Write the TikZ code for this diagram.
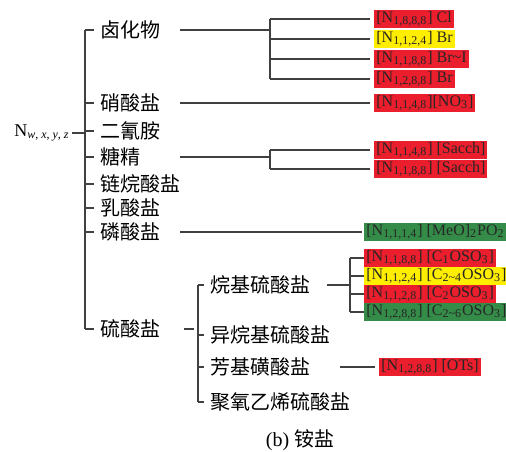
\documentclass[tikz,border=0pt]{standalone}
\usepackage{fontspec}
\setmainfont{Liberation Serif}
\newfontfamily\cjk{Noto Sans CJK SC}
\usetikzlibrary{positioning}
\definecolor{saltred}{RGB}{234,30,44}
\definecolor{saltyellow}{RGB}{255,238,0}
\definecolor{saltgreen}{RGB}{52,140,72}
\tikzset{
  branch/.style={draw=black!75, line width=0.7pt},
  cls/.style={anchor=west, inner sep=1pt,
    font=\cjk\fontsize{10}{12}\selectfont},
  ion/.style={anchor=west, inner xsep=1pt, inner ysep=0pt,
    minimum height=9pt, text=black!85,
    font=\fontsize{8}{10}\selectfont},
  redion/.style={ion, fill=saltred},
  yellowion/.style={ion, fill=saltyellow},
  greenion/.style={ion, fill=saltgreen},
}

\begin{document}
\begin{tikzpicture}[x=0.5pt, y=-0.5pt]
    \useasboundingbox (0,0) rectangle (506,451);

    %cation and first level
    \node[anchor=east, inner sep=1pt, font=\fontsize{9}{11}\selectfont]
        (cation) at (72,133) {N\textsubscript{\textit{w}, \textit{x}, \textit{y}, \textit{z}}};
    \node[cls] (halide) at (98,30) {卤化物};
    \node[cls] (nitrate) at (98,103) {硝酸盐};
    \node[cls] (dicyan) at (98,131) {二氰胺};
    \node[cls] (saccharin) at (98,157) {糖精};
    \node[cls] (alkanoate) at (98,184) {链烷酸盐};
    \node[cls] (lactate) at (98,208) {乳酸盐};
    \node[cls] (phosphate) at (98,232) {磷酸盐};
    \node[cls] (sulfate) at (98,329) {硫酸盐};

    %sulfates
    \node[cls] (alkylsulf) at (208,285) {烷基硫酸盐};
    \node[cls] (isoalkylsulf) at (208,335) {异烷基硫酸盐};
    \node[cls] (arylsulf) at (208,367) {芳基磺酸盐};
    \node[cls] (peosulf) at (208,402) {聚氧乙烯硫酸盐};

    %anions
    \node[redion] (hal1) at (374,19) {[N\textsubscript{1,8,8,8}] Cl};
    \node[yellowion] (hal2) at (374,39) {[N\textsubscript{1,1,2,4}] Br};
    \node[redion] (hal3) at (374,59) {[N\textsubscript{1,1,8,8}] Br\textasciitilde I};
    \node[redion] (hal4) at (374,79) {[N\textsubscript{1,2,8,8}] Br};
    \node[redion] (no3) at (374,103) {[N\textsubscript{1,1,4,8}][NO\textsubscript{3}]};
    \node[redion] (sac1) at (374,150) {[N\textsubscript{1,1,4,8}] [Sacch]};
    \node[redion] (sac2) at (374,169) {[N\textsubscript{1,1,8,8}] [Sacch]};
    \node[greenion] (phos1) at (364,232) {[N\textsubscript{1,1,1,4}] [MeO]\textsubscript{2}PO\textsubscript{2}};
    \node[redion] (sulf1) at (364,258) {[N\textsubscript{1,1,8,8}] [C\textsubscript{1}OSO\textsubscript{3}]};
    \node[yellowion] (sulf2) at (364,276) {[N\textsubscript{1,1,2,4}] [C\textsubscript{2\textasciitilde 4}OSO\textsubscript{3}]};
    \node[redion] (sulf3) at (364,294) {[N\textsubscript{1,1,2,8}] [C\textsubscript{2}OSO\textsubscript{3}]};
    \node[greenion] (sulf4) at (364,312) {[N\textsubscript{1,2,8,8}] [C\textsubscript{2\textasciitilde 6}OSO\textsubscript{3}]};
    \node[redion] (ots) at (379,367) {[N\textsubscript{1,2,8,8}] [OTs]};

    %caption
    \node[font=\fontsize{10}{12}\selectfont] (caption) at (300,440) {(b) {\cjk 铵盐}};

    %columns
    \coordinate (trunk) at (85,0);
    \coordinate (leave) at (180,0);
    \coordinate (fork) at (270,0);
    \coordinate (subtrunk) at (198,0);
    \coordinate (subfork) at (350,0);
    \coordinate (alkylout) at (327,0);
    \coordinate (arylout) at (340,0);

    %connections
    \draw[branch] (cation) -- (trunk |- cation);
    \draw[branch] (trunk |- halide) -- (trunk |- sulfate);
    \foreach \c in {halide,nitrate,dicyan,saccharin,alkanoate,lactate,phosphate,sulfate}
        \draw[branch] (trunk |- \c) -- ([xshift=-2pt]\c.west);

    \draw[branch] (leave |- halide) -- (fork |- halide);
    \draw[branch] (fork |- hal1) -- (fork |- hal4);
    \foreach \a in {hal1,hal2,hal3,hal4}
        \draw[branch] (fork |- \a) -- ([xshift=-2pt]\a.west);

    \draw[branch] (leave |- no3) -- ([xshift=-2pt]no3.west);

    \draw[branch] (leave |- saccharin) -- (fork |- saccharin);
    \draw[branch] (fork |- sac1) -- (fork |- sac2);
    \foreach \a in {sac1,sac2}
        \draw[branch] (fork |- \a) -- ([xshift=-2pt]\a.west);

    \draw[branch] (leave |- phos1) -- ([xshift=-1pt]phos1.west);

    \draw[branch] ([xshift=2pt]leave |- sulfate) -- ([xshift=-2pt]subtrunk |- sulfate);
    \draw[branch] (subtrunk |- alkylsulf) -- (subtrunk |- peosulf);
    \foreach \c in {alkylsulf,isoalkylsulf,arylsulf,peosulf}
        \draw[branch] (subtrunk |- \c) -- ([xshift=-2pt]\c.west);

    \draw[branch] (alkylout |- alkylsulf) -- (subfork |- alkylsulf);
    \draw[branch] (subfork |- sulf1) -- (subfork |- sulf4);
    \foreach \a in {sulf1,sulf2,sulf3,sulf4}
        \draw[branch] (subfork |- \a) -- (\a.west);

    \draw[branch] (arylout |- ots) -- ([xshift=-2pt]ots.west);
\end{tikzpicture}
\end{document}
